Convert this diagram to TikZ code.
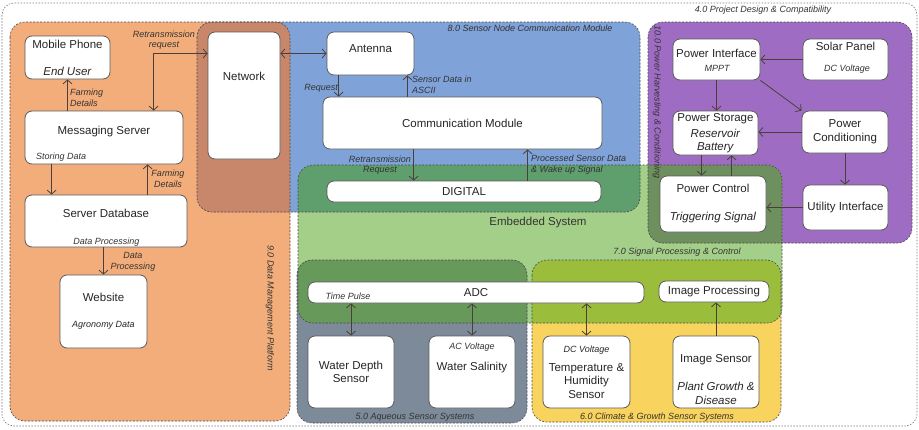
\documentclass[tikz,border=0pt]{standalone}
\usepackage{fontspec}
\setmainfont{Liberation Sans}
\usetikzlibrary{arrows.meta}
\definecolor{ZoneOrange}{HTML}{F3AD7A}
\definecolor{ZoneNet}{HTML}{C8876A}
\definecolor{ZoneBlue}{HTML}{7FA3D9}
\definecolor{ZoneBlueGreen}{HTML}{5F9E6D}
\definecolor{ZoneGreen}{HTML}{A4CF88}
\definecolor{ZonePurple}{HTML}{9E6DC3}
\definecolor{ZonePurpleGreen}{HTML}{6E8F5E}
\definecolor{ZoneGray}{HTML}{7D8A9A}
\definecolor{ZoneGrayGreen}{HTML}{67995A}
\definecolor{ZoneYellow}{HTML}{F8D35D}
\definecolor{ZoneYellowGreen}{HTML}{9BBD3C}
\definecolor{ZoneBorder}{HTML}{4A4A4A}
\definecolor{OuterBorder}{HTML}{7A7A7A}
\definecolor{BoxBorder}{HTML}{5A5A5A}
\definecolor{FlowColor}{HTML}{4A3F3A}
\definecolor{NoteText}{HTML}{333333}
\newcommand{\mainfs}{\fontsize{11.5}{13}\selectfont}
\newcommand{\notefs}{\fontsize{9}{10.5}\selectfont}

\begin{document}
\begin{tikzpicture}[x=1pt, y=-1pt,
  >={Straight Barb[length=4pt, width=9pt]},
  box/.style={draw=BoxBorder, fill=white, line width=0.8pt, rounded corners=7pt, align=center, inner sep=0pt, font=\mainfs, text=black!85},
  note/.style={font=\notefs\itshape, text=NoteText, inner sep=0pt},
  zoneline/.style={draw=ZoneBorder, line width=0.6pt, dash pattern=on 2pt off 1.5pt, rounded corners=15pt},
  flow/.style={draw=FlowColor, line width=0.8pt}]
  \useasboundingbox (0,0) rectangle (919,429);

  % Outer frame
  \draw[OuterBorder, line width=0.6pt, dash pattern=on 1.5pt off 1.5pt, rounded corners=12pt] (2,3) rectangle (917,426);
  \node[note] (projectlbl) at (763,10) {4.0 Project Design \& Compatibility};

  % Zone fills
  \foreach \xa/\ya/\xb/\yb/\col in {10/22/290/421/ZoneOrange, 197/22/640/212/ZoneBlue, 648/22/912/243/ZonePurple,
      298/165/782/323/ZoneGreen, 297/260/527/423/ZoneGray, 532/260/781/422/ZoneYellow} {
    \fill[\col, rounded corners=15pt] (\xa,\ya) rectangle (\xb,\yb);
  }

  % Overlaps
  \begin{scope}
    \clip[rounded corners=15pt] (197,22) rectangle (640,212);
    \fill[ZoneNet, rounded corners=15pt] (10,22) rectangle (290,421);
    \fill[ZoneBlueGreen, rounded corners=15pt] (298,165) rectangle (782,323);
  \end{scope}
  \begin{scope}
    \clip[rounded corners=15pt] (298,165) rectangle (782,323);
    \fill[ZonePurpleGreen, rounded corners=15pt] (648,22) rectangle (912,243);
    \fill[ZoneGrayGreen, rounded corners=15pt] (297,260) rectangle (527,423);
    \fill[ZoneYellowGreen, rounded corners=15pt] (532,260) rectangle (781,422);
  \end{scope}

  % Zone borders
  \foreach \xa/\ya/\xb/\yb in {10/22/290/421, 197/22/640/212, 648/22/912/243,
      298/165/782/323, 297/260/527/423, 532/260/781/422} {
    \draw[zoneline] (\xa,\ya) rectangle (\xb,\yb);
  }

  % Zone labels
  \node[note] (commlbl) at (530,28) {8.0 Sensor Node Communication Module};
  \node[note, rotate=-90] (datalbl) at (270,308) {9.0 Data Management Platform};
  \node[note, rotate=-90] (powerlbl) at (657,102) {10.0 Power Harvesting \& Conditioning};
  \node[font=\mainfs, text=black!80] (embeddedlbl) at (538,223) {Embedded System};
  \node[note] (signallbl) at (677,252) {7.0 Signal Processing \& Control};
  \node[note] (aqueouslbl) at (415,417) {5.0 Aqueous Sensor Systems};
  \node[note] (climatelbl) at (657,417) {6.0 Climate \& Growth Sensor Systems};

  % Data management platform
  \node[box, minimum width=85pt, minimum height=43pt] (mobile) at (67.5,57.5) {Mobile Phone\\[14pt]\textit{End User}};
  \node[box, minimum width=72pt, text height=48pt, text depth=79pt] (network) at (244,95.5) {Network};
  \node[box, minimum width=158pt, text height=23pt, text depth=30pt] (msgserver) at (104,137.5) {Messaging Server};
  \node[note, anchor=west] (msgnote) at (36,157) {Storing Data};
  \node[box, minimum width=162pt, text height=22pt, text depth=30pt] (database) at (106,221) {Server Database};
  \node[note] (dbnote) at (106.5,242) {Data Processing};
  \node[box, minimum width=87pt, minimum height=73pt] (website) at (103.5,311.5) {Website\\[13pt]{\notefs\itshape Agronomy Data}};

  % Communication module
  \node[box, minimum width=87pt, text height=20pt, text depth=23pt] (antenna) at (370.5,53.5) {Antenna};
  \node[box, minimum width=279pt, minimum height=52pt] (comm) at (462.5,123) {Communication Module};
  \node[box, minimum width=274pt, minimum height=21pt] (digital) at (464,191.5) {DIGITAL};

  % Power harvesting
  \node[box, minimum width=87pt, text height=18pt, text depth=23pt] (powerif) at (716.5,59.5) {Power Interface};
  \node[note] (powerifnote) at (717,68) {MPPT};
  \node[box, minimum width=85pt, text height=11pt, text depth=30pt] (solar) at (845.5,59.5) {Solar Panel};
  \node[note] (solarnote) at (847,69) {DC Voltage};
  \node[box, minimum width=85pt, minimum height=44pt] (storage) at (715.5,133) {Power Storage\\[3pt]\textit{Reservoir}\\\textit{Battery}};
  \node[box, minimum width=86pt, minimum height=42pt] (cond) at (845,132) {Power\\[1pt]Conditioning};
  \node[box, minimum width=85pt, minimum height=45pt] (utility) at (845.5,207.5) {Utility Interface};
  \node[box, minimum width=106pt, minimum height=56pt] (powerctl) at (713,204) {Power Control\\[15pt]\textit{Triggering Signal}};

  % Sensor systems
  \node[box, minimum width=336pt, minimum height=21pt] (adc) at (476,292.5) {ADC};
  \node[note] (adcnote) at (348,296) {Time Pulse};
  \node[box, minimum width=110pt, minimum height=21pt] (imgproc) at (714,291.5) {Image Processing};
  \node[box, minimum width=86pt, minimum height=72pt] (depth) at (351,372) {Water Depth\\Sensor};
  \node[box, minimum width=86pt, text height=34pt, text depth=38pt] (salinity) at (472,372) {Water Salinity};
  \node[note] (salinitynote) at (472,347) {AC Voltage};
  \node[box, minimum width=87pt, minimum height=72pt] (climate) at (586.5,372) {{\notefs\itshape DC Voltage}\\[6pt]Temperature \&\\Humidity\\[1pt]Sensor};
  \node[box, minimum width=86pt, text height=26pt, text depth=46pt] (imgsensor) at (716,372) {Image Sensor};
  \node[font=\mainfs\itshape, text=black!85, align=center, inner sep=0pt] (imgsensornote) at (716,393) {Plant Growth \&\\[1pt]Disease};

  % Taps for vertical links
  \coordinate (retxTap) at ([xshift=129pt]msgserver.north west);
  \coordinate (storeTap) at ([xshift=27pt]msgserver.south west);
  \coordinate (farmTap) at ([xshift=123pt]database.north west);
  \coordinate (requestTap) at ([xshift=12pt]antenna.south west);
  \coordinate (asciiTap) at ([xshift=-7pt]antenna.south east);
  \coordinate (retxDownTap) at ([xshift=91pt]comm.south west);
  \coordinate (wakeTap) at ([xshift=205pt]comm.south west);
  \coordinate (chargeTap) at ([xshift=29pt]storage.south west);
  \coordinate (triggerTap) at ([xshift=59pt]storage.south west);

  % Data flows
  \draw[flow, ->] (mobile.south |- msgserver.north) -- (mobile.south);
  \node[note, align=left, anchor=west] (farmnote) at (70,98) {Farming\\Details};
  \draw[flow, <->] (network.west |- antenna.west) -| (retxTap);
  \node[note, align=center] (retxnote) at (164,40) {Retransmission\\request};
  \draw[flow, <->] (network.east |- antenna.west) -- (antenna.west);
  \draw[flow, ->] (storeTap) -- (storeTap |- database.north);
  \draw[flow, ->] (farmTap) -- (farmTap |- msgserver.south);
  \node[note, align=center] (farmupnote) at (168,179) {Farming\\Details};
  \draw[flow, ->] (website.north |- database.south) -- (website.north);
  \node[note, align=center] (procnote) at (133,262) {Data\\Processing};

  % Communication flows
  \draw[flow, ->] (requestTap) -- (requestTap |- comm.north);
  \node[note, anchor=east] (requestnote) at (338,88) {Request};
  \draw[flow, ->] (asciiTap |- comm.north) -- (asciiTap);
  \node[note, align=left, anchor=west] (asciinote) at (412,85) {Sensor Data in\\ASCII};
  \draw[flow, ->] (retxDownTap) -- (retxDownTap |- digital.north);
  \node[note, align=center] (retxdownnote) at (380,165) {Retransmission\\Request};
  \draw[flow, ->] (wakeTap |- digital.north) -- (wakeTap);
  \node[note, align=left, anchor=west] (wakenote) at (531,164.5) {Processed Sensor Data\\\& Wake up Signal};

  % Power flows
  \draw[flow, ->] (solar.west) -- (powerif.east |- solar.west);
  \draw[flow, ->] (powerif.south) -- (powerif.south |- storage.north);
  \draw[flow, ->] (powerif.south east) -- (cond.north west);
  \draw[flow, ->] (cond.west) -- (storage.east |- cond.west);
  \draw[flow, ->] (cond.south) -- (cond.south |- utility.north);
  \draw[flow, ->] (utility.west) -- (powerctl.east |- utility.west);
  \draw[flow, ->] (chargeTap) -- (chargeTap |- powerctl.north);
  \draw[flow, ->] (triggerTap |- powerctl.north) -- (triggerTap);

  % Sensor flows
  \draw[flow, <->] (depth.north |- adc.south) -- (depth.north);
  \draw[flow, <->] (salinity.north |- adc.south) -- (salinity.north);
  \draw[flow, <->] (climate.north |- adc.south) -- (climate.north);
  \draw[flow, ->] (imgsensor.north) -- (imgsensor.north |- imgproc.south);
\end{tikzpicture}
\end{document}
